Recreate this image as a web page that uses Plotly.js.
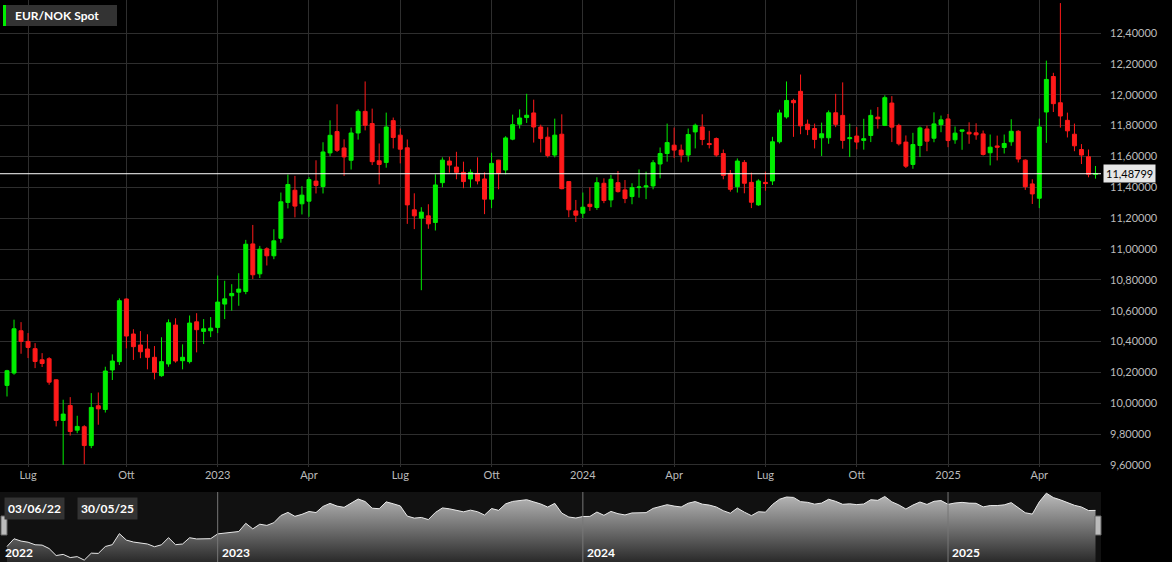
<!DOCTYPE html>
<html>
<head>
<meta charset="utf-8">
<script src="https://cdn.plot.ly/plotly-3.0.1.min.js"></script>
<style>
  html, body { margin: 0; padding: 0; background: #000; }
  #chart { width: 1172px; height: 562px; }
</style>
</head>
<body>
<div id="chart"></div>
<script>
// Weekly EUR/NOK spot candles (week ending Friday), 10/06/2022 .. 30/05/2025
const firstWeek = '2022-06-10';
const weekCount = 156;

const opens = [
10.116,10.196,10.470,10.401,10.354,10.282,10.289,10.152,9.889,9.986,
9.826,9.848,9.726,9.984,9.960,10.216,10.270,10.676,10.449,10.378,
10.352,10.298,10.179,10.255,10.507,10.276,10.270,10.528,10.466,10.470,
10.492,10.643,10.697,10.720,10.725,11.033,10.839,11.001,10.956,11.069,
11.302,11.381,11.293,11.310,11.440,11.405,11.623,11.761,11.655,11.575,
11.752,11.892,11.813,11.572,11.561,11.832,11.738,11.656,11.254,11.200,
11.215,11.172,11.430,11.570,11.531,11.497,11.454,11.490,11.454,11.323,
11.576,11.512,11.712,11.809,11.852,11.882,11.791,11.725,11.609,11.744,
11.437,11.247,11.232,11.290,11.269,11.426,11.318,11.430,11.383,11.340,
11.398,11.402,11.409,11.551,11.619,11.673,11.641,11.609,11.759,11.791,
11.684,11.716,11.619,11.490,11.404,11.561,11.432,11.286,11.432,11.441,
11.695,11.856,11.963,12.022,11.809,11.781,11.721,11.721,11.883,11.866,
11.715,11.732,11.704,11.736,11.855,11.801,11.946,11.801,11.693,11.548,
11.671,11.778,11.718,11.806,11.843,11.708,11.763,11.757,11.753,11.746,
11.624,11.668,11.658,11.695,11.763,11.576,11.422,11.329,11.888,12.118,
11.948,11.834,11.744,11.645,11.598,11.484
];
const highs = [
10.217,10.542,10.526,10.455,10.390,10.325,10.299,10.155,10.023,10.040,
9.919,9.858,10.066,10.070,10.237,10.317,10.680,10.680,10.480,10.468,
10.447,10.371,10.428,10.544,10.551,10.382,10.569,10.584,10.546,10.559,
10.828,10.794,10.772,10.843,11.059,11.156,11.020,11.011,11.128,11.366,
11.483,11.474,11.407,11.466,11.575,11.692,11.834,11.938,11.711,11.787,
11.905,12.086,11.910,11.684,11.884,11.852,11.781,11.710,11.361,11.271,
11.290,11.484,11.594,11.598,11.630,11.566,11.516,11.594,11.497,11.624,
11.578,11.731,11.871,11.905,12.006,11.968,11.806,11.789,11.845,11.873,
11.437,11.318,11.366,11.400,11.465,11.458,11.480,11.505,11.447,11.426,
11.516,11.501,11.576,11.658,11.813,11.787,11.677,11.781,11.813,11.873,
11.766,11.723,11.645,11.512,11.587,11.576,11.495,11.452,11.501,11.727,
11.903,12.086,11.974,12.131,11.839,11.813,11.819,11.898,12.006,12.080,
11.812,11.790,11.844,11.903,11.920,11.996,11.991,11.812,11.736,11.753,
11.794,11.800,11.886,11.865,11.875,11.794,11.772,11.821,11.815,11.768,
11.742,11.735,11.742,11.841,11.770,11.581,11.452,11.845,12.221,12.142,
12.594,11.884,11.813,11.680,11.645,11.538
];
const lows = [
10.044,10.185,10.321,10.293,10.228,10.235,10.120,9.850,9.601,9.791,
9.806,9.605,9.709,9.861,9.940,10.151,10.248,10.356,10.281,10.292,
10.220,10.155,10.172,10.237,10.263,10.220,10.258,10.330,10.384,10.429,
10.455,10.546,10.600,10.632,10.707,10.805,10.812,10.893,10.934,11.041,
11.263,11.205,11.224,11.209,11.360,11.360,11.601,11.629,11.474,11.515,
11.709,11.769,11.544,11.419,11.527,11.652,11.555,11.163,11.129,10.733,
11.131,11.120,11.400,11.495,11.452,11.394,11.398,11.419,11.226,11.265,
11.387,11.484,11.705,11.781,11.817,11.690,11.626,11.593,11.594,11.387,
11.206,11.175,11.200,11.247,11.254,11.297,11.271,11.366,11.297,11.290,
11.333,11.323,11.387,11.458,11.566,11.591,11.561,11.566,11.652,11.673,
11.652,11.598,11.452,11.372,11.366,11.361,11.265,11.280,11.378,11.415,
11.684,11.845,11.727,11.744,11.738,11.652,11.603,11.682,11.790,11.650,
11.596,11.646,11.644,11.693,11.780,11.797,11.693,11.671,11.525,11.520,
11.596,11.634,11.692,11.757,11.660,11.682,11.643,11.682,11.708,11.606,
11.542,11.574,11.619,11.669,11.561,11.383,11.292,11.265,11.688,11.888,
11.787,11.723,11.634,11.551,11.465,11.456
];
const closes = [
10.211,10.483,10.401,10.362,10.271,10.258,10.137,9.889,9.930,9.817,
9.850,9.726,9.973,9.964,10.209,10.274,10.665,10.436,10.367,10.334,
10.298,10.201,10.270,10.522,10.274,10.298,10.520,10.477,10.483,10.487,
10.656,10.677,10.712,10.740,11.031,10.833,10.999,10.956,11.053,11.306,
11.418,11.278,11.349,11.450,11.412,11.629,11.737,11.640,11.597,11.752,
11.892,11.802,11.566,11.548,11.791,11.723,11.647,11.286,11.215,11.239,
11.163,11.415,11.576,11.544,11.497,11.437,11.497,11.441,11.323,11.555,
11.490,11.720,11.806,11.849,11.867,11.791,11.716,11.606,11.738,11.391,
11.254,11.219,11.271,11.275,11.430,11.314,11.452,11.372,11.327,11.398,
11.402,11.409,11.559,11.619,11.690,11.641,11.609,11.742,11.802,11.710,
11.677,11.609,11.477,11.387,11.570,11.426,11.303,11.441,11.424,11.695,
11.882,11.963,11.948,11.798,11.774,11.710,11.747,11.883,11.808,11.704,
11.721,11.693,11.715,11.866,11.844,11.981,11.790,11.682,11.537,11.677,
11.785,11.699,11.811,11.837,11.703,11.751,11.772,11.746,11.740,11.613,
11.660,11.660,11.684,11.763,11.583,11.404,11.357,11.791,12.099,11.942,
11.862,11.766,11.669,11.609,11.484,11.488
];

const lastPrice = 11.48799;
const lastPriceText = '11,48799';
const seriesName = 'EUR/NOK Spot';
const rangeStartText = '03/06/22';
const rangeEndText = '30/05/25';

const yTicks = [9.6,9.8,10.0,10.2,10.4,10.6,10.8,11.0,11.2,11.4,11.6,11.8,12.0,12.2,12.4];
const xTickDates = ['2022-07-01','2022-10-07','2023-01-06','2023-04-07','2023-07-07','2023-10-06',
                    '2024-01-05','2024-04-05','2024-07-05','2024-10-04','2025-01-03','2025-04-04'];
const xTickLabels = ['Lug','Ott','2023','Apr','Lug','Ott','2024','Apr','Lug','Ott','2025','Apr'];
const navYearDates = ['2023-01-06','2024-01-05','2025-01-03'];
const navYearLabels = ['2023','2024','2025'];
const navFirstYear = '2022';

// weekly dates (x categories)
const dates = [];
{
  const t0 = Date.parse(firstWeek + 'T00:00:00Z');
  for (let i = 0; i < weekCount; i++) {
    dates.push(new Date(t0 + i * 7 * 86400000).toISOString().slice(0, 10));
  }
}

// ---- layout geometry (pixels) ----
const W = 1172, H = 562;
const plotW = 1101;                 // plot area width (right margin holds y labels)
const mainBottom = 467;             // px from top
const navTop = 492;
const px = v => v / plotW;          // paper x from px
const py = v => 1 - v / H;          // paper y from px

const xRange = ['2022-06-03 00:30', '2025-06-04 11:30'];
const font = 'Lato, "Open Sans", Arial, sans-serif';
const GREEN = '#00ee00', RED = '#ff1a1a';

const candles = {
  type: 'candlestick', x: dates, open: opens, high: highs, low: lows, close: closes,
  xaxis: 'x', yaxis: 'y', whiskerwidth: 0, hoverinfo: 'none', name: seriesName,
  increasing: { line: { color: GREEN, width: 1 }, fillcolor: GREEN },
  decreasing: { line: { color: RED, width: 1 }, fillcolor: RED }
};

const nav = {
  type: 'scatter', mode: 'lines', x: dates, y: closes, xaxis: 'x2', yaxis: 'y2',
  line: { color: '#e8e8e8', width: 1 }, fill: 'tozeroy',
  fillgradient: { type: 'vertical', start: 9.66, stop: 12.14,
                  colorscale: [[0, '#2a2a2a'], [1, '#bdbdbd']] },
  hoverinfo: 'none'
};

const shapes = [
  // navigator background
  { type: 'rect', xref: 'paper', yref: 'paper', x0: 0, x1: 1, y0: 0, y1: py(navTop), fillcolor: '#111', line: { width: 0 }, layer: 'below' },
  // last price line
  { type: 'line', xref: 'paper', yref: 'y', x0: 0, x1: 1, y0: lastPrice, y1: lastPrice, line: { color: '#ffffff', width: 1 } },
  // legend box + green marker
  { type: 'rect', xref: 'paper', yref: 'paper', x0: px(3), x1: px(117), y0: py(26), y1: py(5), fillcolor: '#333333', line: { width: 0 } },
  { type: 'rect', xref: 'paper', yref: 'paper', x0: px(3), x1: px(6), y0: py(26), y1: py(5), fillcolor: GREEN, line: { width: 0 } },
  // navigator handles
  { type: 'rect', xref: 'paper', yref: 'paper', x0: px(1), x1: px(7), y0: py(535), y1: py(516), fillcolor: '#bbbbbb', line: { color: '#666', width: 1 } },
  { type: 'rect', xref: 'paper', yref: 'paper', x0: px(1095), x1: px(1101), y0: py(535), y1: py(516), fillcolor: '#bbbbbb', line: { color: '#666', width: 1 } }
];
navYearDates.forEach(d => shapes.push({
  type: 'line', xref: 'x2', yref: 'paper', x0: d, x1: d, y0: 0, y1: py(navTop),
  line: { color: '#777', width: 1 }, layer: 'above'
}));

const annotations = [
  { xref: 'paper', yref: 'paper', x: px(13), y: py(15.5), xanchor: 'left', yanchor: 'middle', showarrow: false,
    text: seriesName, font: { family: font, size: 12, color: '#ffffff', weight: 'bold' } },
  { xref: 'paper', yref: 'y', x: 1, y: lastPrice, xanchor: 'left', yanchor: 'middle', showarrow: false, xshift: 2,
    text: lastPriceText, bgcolor: '#e6e6e6', borderpad: 2, font: { family: font, size: 11, color: '#000' } },
  { xref: 'paper', yref: 'paper', x: px(4), y: py(508), xanchor: 'left', yanchor: 'middle', showarrow: false,
    text: rangeStartText, bgcolor: '#333333', borderpad: 3, font: { family: font, size: 12, color: '#fff', weight: 'bold' } },
  { xref: 'paper', yref: 'paper', x: px(77), y: py(508), xanchor: 'left', yanchor: 'middle', showarrow: false,
    text: rangeEndText, bgcolor: '#333333', borderpad: 3, font: { family: font, size: 12, color: '#fff', weight: 'bold' } },
  { xref: 'paper', yref: 'paper', x: px(3), y: py(552), xanchor: 'left', yanchor: 'middle', showarrow: false,
    text: navFirstYear, font: { family: font, size: 12, color: '#fff', weight: 'bold' } }
];
navYearDates.forEach((d, i) => annotations.push({
  xref: 'x2', yref: 'paper', x: d, y: py(552), xanchor: 'left', yanchor: 'middle', showarrow: false, xshift: 2,
  text: navYearLabels[i], font: { family: font, size: 12, color: '#fff', weight: 'bold' }
}));

const layout = {
  width: W, height: H,
  paper_bgcolor: '#000', plot_bgcolor: '#000',
  margin: { l: 0, r: W - plotW, t: 0, b: 0, pad: 0 },
  showlegend: false, separators: ',.',
  boxgap: 0.25, boxgroupgap: 0.25,
  font: { family: font, color: '#bbbbbb' },
  xaxis: {
    type: 'date', range: xRange, domain: [0, 1], anchor: 'y',
    tickvals: xTickDates, ticktext: xTickLabels, ticks: '',
    showgrid: true, gridcolor: '#2e2e2e', gridwidth: 1, zeroline: false, showline: false,
    tickfont: { family: font, size: 11, color: '#bbbbbb' },
    rangeslider: { visible: false }, fixedrange: true
  },
  yaxis: {
    domain: [py(mainBottom), 1], range: [9.587, 12.614], side: 'right', anchor: 'x',
    tickvals: yTicks, tickformat: '.5f', ticks: '', ticklabelstandoff: 8,
    showgrid: true, gridcolor: '#2e2e2e', gridwidth: 1, zeroline: false, showline: false,
    tickfont: { family: font, size: 11, color: '#bbbbbb' }, fixedrange: true
  },
  xaxis2: {
    type: 'date', range: xRange, domain: [0, 1], anchor: 'y2',
    showgrid: false, showticklabels: false, ticks: '', zeroline: false, showline: false, fixedrange: true
  },
  yaxis2: {
    domain: [0, py(navTop)], range: [9.66, 12.14], visible: false, fixedrange: true
  },
  shapes: shapes,
  annotations: annotations
};

Plotly.newPlot('chart', [nav, candles], layout, { staticPlot: true, displayModeBar: false });
</script>
</body>
</html>
